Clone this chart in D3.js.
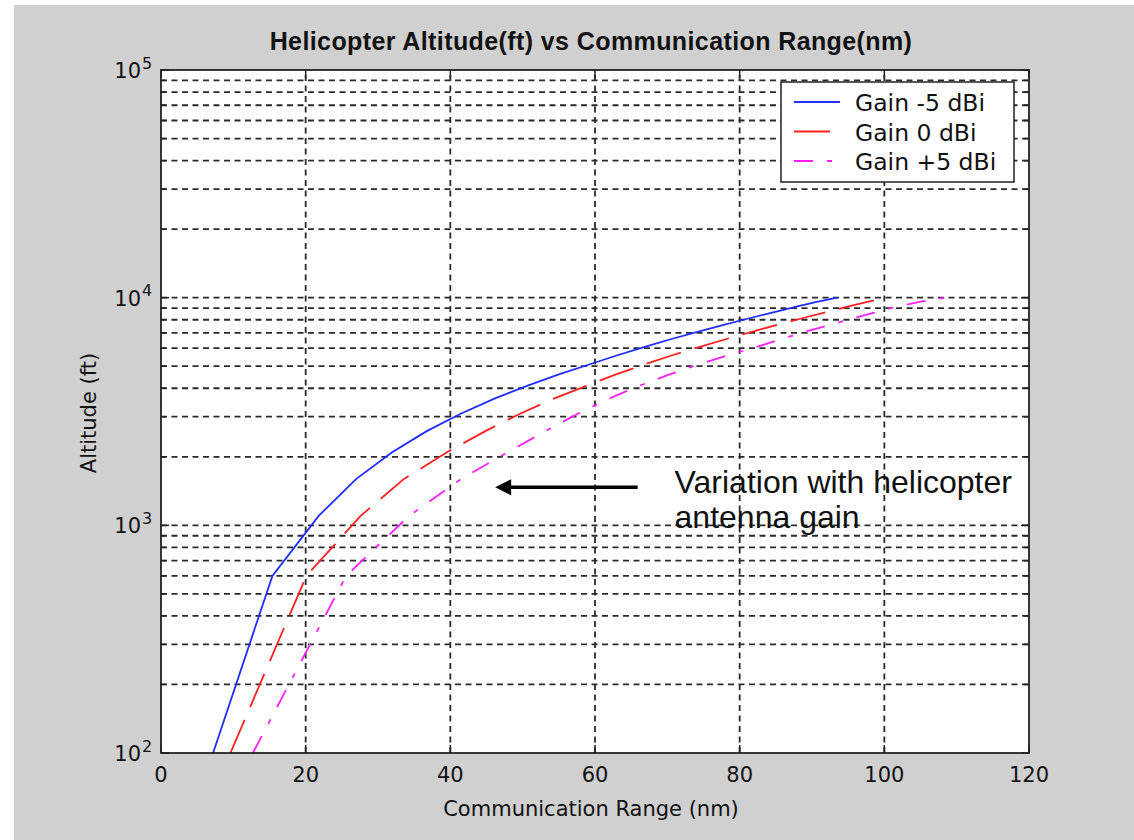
<!DOCTYPE html>
<html>
<head>
<meta charset="utf-8">
<script src="https://cdn.jsdelivr.net/npm/d3@7"></script>
<style>
  body { margin:0; background:#fff; }
  text { fill:#111; }
</style>
</head>
<body>
<div id="canvas"></div>
<script>
// altitude samples (ft) and communication range (nm) for each antenna gain
var altitudes = [100, 600, 1100, 1600, 2100, 2600, 3100, 3600, 4100, 4600, 5100,
                 5600, 6100, 6600, 7100, 7600, 8100, 8600, 9100, 9600, 10000];
var rangeGainM5 = [7.2, 15.4, 21.8, 27.0, 32.0, 36.8, 41.5, 46.1, 50.6, 55.0, 59.3,
                   63.2, 67.0, 70.7, 74.3, 77.8, 81.2, 84.5, 87.7, 90.8, 93.5];
var rangeGain0  = [9.6, 20.1, 27.6, 33.6, 39.6, 44.9, 49.7, 54.3, 58.8, 62.9, 66.9,
                   70.8, 74.6, 78.3, 81.8, 85.2, 88.5, 91.7, 94.8, 97.8, 100.3];
var rangeGainP5 = [12.7, 25.6, 34.3, 41.5, 48.0, 53.2, 57.7, 61.9, 66.1, 70.3, 74.4,
                   78.5, 82.5, 85.9, 89.2, 92.5, 95.6, 98.6, 101.6, 105.0, 108.4];

var seriesNames = ['Gain -5 dBi', 'Gain 0 dBi', 'Gain +5 dBi'];
var xTicks = [0, 20, 40, 60, 80, 100, 120];
var yMajor = [100, 1000, 10000, 100000];
var yExp = ['2', '3', '4', '5'];

var W = 1134, H = 840;
var box = {l:161, r:1029, t:70, b:753};

var svg = d3.select('#canvas').append('svg')
    .attr('width', W).attr('height', H);

// matlab figure grey
svg.append('rect').attr('x',14).attr('y',5).attr('width',W-14).attr('height',H-5)
    .attr('fill','#d0d0d0');

var x = d3.scaleLinear().domain([0,120]).range([box.l, box.r]);
var y = d3.scaleLog().domain([100,100000]).range([box.b, box.t]);

svg.append('rect').attr('x',box.l).attr('y',box.t)
    .attr('width',box.r-box.l).attr('height',box.b-box.t).attr('fill','#fff');

// all log ticks (major + minor)
var yAll = y.ticks();
var yInner = yAll.filter(function(d){ return d > 100 && d < 100000; });

var grid = svg.append('g').attr('stroke','#2a2a2a').attr('stroke-width',1.8)
    .attr('stroke-dasharray','6,4.5').attr('fill','none');
grid.selectAll('.gy').data(yInner).enter().append('line')
    .attr('x1',box.l).attr('x2',box.r)
    .attr('y1',function(d){return y(d);}).attr('y2',function(d){return y(d);});
grid.selectAll('.gx').data(xTicks.slice(1,-1)).enter().append('line')
    .attr('y1',box.b).attr('y2',box.t)
    .attr('x1',function(d){return x(d);}).attr('x2',function(d){return x(d);});

// ticks on every side, pointing in
var ticks = svg.append('g').attr('stroke','#222').attr('stroke-width',1.5);
yAll.forEach(function(d){
    var len = yMajor.indexOf(d) >= 0 ? 8 : 5;
    ticks.append('line').attr('x1',box.l).attr('x2',box.l+len).attr('y1',y(d)).attr('y2',y(d));
    ticks.append('line').attr('x1',box.r).attr('x2',box.r-len).attr('y1',y(d)).attr('y2',y(d));
});
xTicks.forEach(function(d){
    ticks.append('line').attr('x1',x(d)).attr('x2',x(d)).attr('y1',box.b).attr('y2',box.b-8);
    ticks.append('line').attr('x1',x(d)).attr('x2',x(d)).attr('y1',box.t).attr('y2',box.t+8);
});

// curves
var line = d3.line()
    .x(function(d){return x(d[0]);})
    .y(function(d){return y(d[1]);});

function pairs(r){ return r.map(function(v,i){ return [v, altitudes[i]]; }); }

var styles = [
    {color:'#1f2dff', dash:null},
    {color:'#ff2020', dash:'36,14'},
    {color:'#ff20ff', dash:'19,14,5,14'}
];
var curves = [rangeGainM5, rangeGain0, rangeGainP5];

svg.append('clipPath').attr('id','clip').append('rect')
    .attr('x',box.l).attr('y',box.t).attr('width',box.r-box.l).attr('height',box.b-box.t);

curves.forEach(function(r,i){
    svg.append('path').datum(pairs(r))
        .attr('clip-path','url(#clip)')
        .attr('d',line)
        .attr('fill','none')
        .attr('stroke',styles[i].color)
        .attr('stroke-width',1.8)
        .attr('stroke-dasharray',styles[i].dash);
});

// axes frame
svg.append('rect').attr('x',box.l).attr('y',box.t)
    .attr('width',box.r-box.l).attr('height',box.b-box.t)
    .attr('fill','none').attr('stroke','#222').attr('stroke-width',1.8);

var axisFont = 'DejaVu Sans, Verdana, sans-serif';

// x tick labels
svg.selectAll('.xl').data(xTicks).enter().append('text')
    .attr('x',function(d){return x(d);}).attr('y',box.b+29)
    .attr('text-anchor','middle').attr('font-family',axisFont).attr('font-size',21)
    .text(function(d){return d;});

// y tick labels 10^n
yMajor.forEach(function(d,i){
    svg.append('text').attr('font-family',axisFont).attr('font-size',21)
        .attr('x',box.l-20).attr('y',y(d)+8).attr('text-anchor','end').text('10');
    svg.append('text').attr('font-family',axisFont).attr('font-size',16)
        .attr('x',box.l-19).attr('y',y(d)-1.5).text(yExp[i]);
});

// title and axis labels
svg.append('text').attr('x',591).attr('y',50).attr('text-anchor','middle')
    .attr('font-family','Liberation Sans, Arial, sans-serif').attr('font-weight','bold')
    .attr('font-size',25).attr('letter-spacing',0.4)
    .text('Helicopter Altitude(ft) vs Communication Range(nm)');

svg.append('text').attr('x',591).attr('y',816).attr('text-anchor','middle')
    .attr('font-family',axisFont).attr('font-size',21)
    .text('Communication Range (nm)');

svg.append('text').attr('transform','translate(96,413) rotate(-90)')
    .attr('text-anchor','middle').attr('font-family',axisFont).attr('font-size',21)
    .text('Altitude (ft)');

// legend
var lg = svg.append('g');
lg.append('rect').attr('x',781).attr('y',82).attr('width',233).attr('height',100)
    .attr('fill','#fff').attr('stroke','#222').attr('stroke-width',1.5);
seriesNames.forEach(function(name,i){
    var ly = 102 + i*29.5;
    lg.append('line').attr('x1',794).attr('x2',840).attr('y1',ly).attr('y2',ly)
        .attr('stroke',styles[i].color).attr('stroke-width',2)
        .attr('stroke-dasharray',styles[i].dash);
    lg.append('text').attr('x',855).attr('y',ly+9)
        .attr('font-family',axisFont).attr('font-size',23.5)
        .text(name);
});

// annotation
var arrowAlt = 1470;
var arrowFrom = 65.9, arrowTo = 46.2;
var ay = y(arrowAlt);
svg.append('line').attr('x1',x(arrowFrom)).attr('x2',x(arrowTo)+12)
    .attr('y1',ay).attr('y2',ay).attr('stroke','#000').attr('stroke-width',3.5);
svg.append('path')
    .attr('d','M'+x(arrowTo)+','+ay+' L'+(x(arrowTo)+16)+','+(ay-8)+' L'+(x(arrowTo)+16)+','+(ay+8)+' Z')
    .attr('fill','#000');

var note = svg.append('text').attr('font-family','Liberation Sans, Arial, sans-serif')
    .attr('font-size',32);
note.append('tspan').attr('x',x(71.0)).attr('y',ay+6).text('Variation with helicopter');
note.append('tspan').attr('x',x(71.0)).attr('y',ay+41).text('antenna gain');
</script>
</body>
</html>
